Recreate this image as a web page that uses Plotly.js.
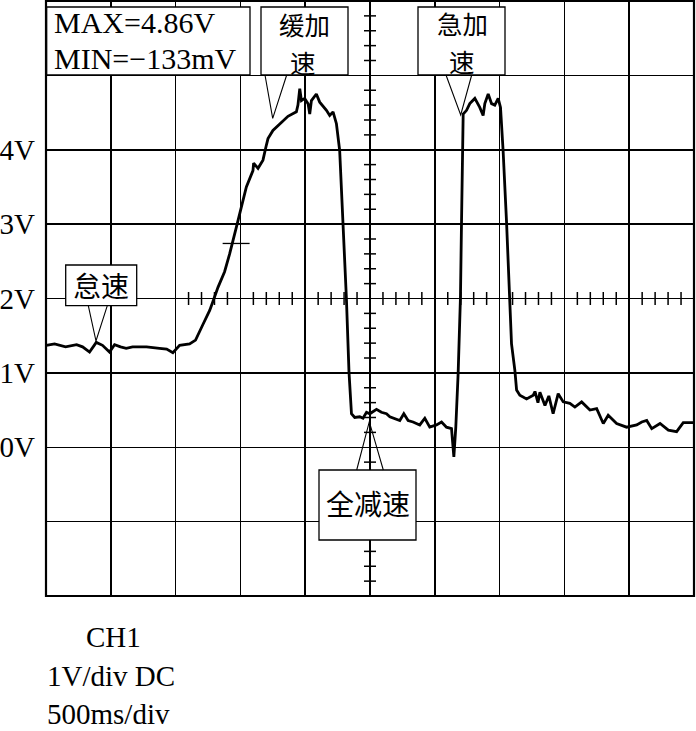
<!DOCTYPE html>
<html><head><meta charset="utf-8">
<script src="https://cdn.plot.ly/plotly-3.0.1.min.js"></script>
<style>html,body{margin:0;padding:0;background:#fff}</style>
</head><body><div id="chart" style="width:696px;height:731px"></div>
<script>
// ---- data (time in s, 500 ms/div; voltage in V, 1 V/div) ----
const timeS = [0.002,0.066,0.151,0.236,0.282,0.336,0.388,0.436,0.490,0.529,0.575,0.619,0.668,0.776,0.876,0.931,0.979,1.031,1.108,1.154,
  1.208,1.263,1.286,1.327,1.378,1.417,1.469,1.507,1.546,1.597,1.602,1.636,1.674,1.700,1.713,1.751,1.803,1.867,1.932,1.944,
  1.958,1.971,1.996,2.022,2.035,2.048,2.086,2.112,2.164,2.189,2.215,2.241,2.266,2.292,2.318,2.338,2.357,2.382,2.421,2.446,
  2.473,2.498,2.550,2.588,2.627,2.653,2.691,2.730,2.761,2.794,2.832,2.884,2.923,2.961,3.013,3.052,3.090,3.129,3.147,3.162,
  3.180,3.198,3.206,3.214,3.219,3.245,3.270,3.309,3.347,3.373,3.386,3.412,3.438,3.463,3.489,3.507,3.515,3.527,3.554,3.579,
  3.592,3.618,3.631,3.656,3.708,3.760,3.773,3.796,3.811,3.850,3.880,3.913,3.952,3.991,4.042,4.081,4.133,4.197,4.249,4.300,
  4.338,4.403,4.480,4.558,4.597,4.635,4.674,4.738,4.802,4.866,4.917,4.995];
const voltV = [1.37,1.39,1.35,1.38,1.35,1.28,1.41,1.37,1.28,1.38,1.35,1.33,1.35,1.35,1.33,1.32,1.27,1.37,1.39,1.44,
  1.64,1.84,1.95,2.15,2.36,2.60,2.96,3.23,3.50,3.72,3.82,3.75,3.86,4.06,4.15,4.26,4.35,4.45,4.51,4.60,
  4.82,4.66,4.69,4.62,4.48,4.66,4.75,4.64,4.53,4.46,4.51,4.35,3.99,3.02,2.00,1.01,0.45,0.40,0.41,0.39,
  0.47,0.45,0.51,0.47,0.45,0.41,0.39,0.36,0.45,0.36,0.34,0.30,0.39,0.27,0.30,0.34,0.27,0.25,-0.13,0.27,
  0.99,2.02,3.01,3.99,4.48,4.53,4.62,4.69,4.57,4.46,4.62,4.75,4.62,4.60,4.69,4.57,4.35,3.99,3.01,2.00,
  1.39,1.03,0.77,0.70,0.65,0.70,0.75,0.60,0.74,0.56,0.69,0.45,0.72,0.61,0.59,0.54,0.61,0.50,0.52,0.32,
  0.43,0.32,0.27,0.30,0.34,0.36,0.25,0.32,0.23,0.21,0.33,0.33];
const yTickVals = [-2,-1,0,1,2,3,4,5,6];
const yTickText = ['','','0V','1V','2V','3V','4V','',''];
const xGridVals = [0,0.5,1,1.5,2,2.5,3,3.5,4,4.5,5];
const infoLines = ['MAX=4.86V','MIN=\u2212133mV'];
const footerLines = ['CH1','1V/div DC','500ms/div'];
const calloutSlow = ['缓加','速'];
const calloutFast = ['急加','速'];
const calloutIdle = '怠速';
const calloutDecel = '全减速';
const cursorT = [1.363,1.571], cursorV = 2.74;

// ---- geometry helpers (pixel -> paper) ----
const W=696,H=731,L=46,R=2,T=1,B=135;
const PW=W-L-R, PH=H-T-B;
const X = px => (px-L)/PW;
const Y = py => (H-B-py)/PH;
const serif = 'Liberation Serif, Times New Roman, serif';
const cjk = 'Noto Sans CJK SC, sans-serif';

const shapes = [];
const line = (x0,y0,x1,y1,w) => ({type:'line',xref:'x',yref:'y',x0,y0,x1,y1,line:{color:'#000',width:w||1.5},layer:'above'});
// center-axis ticks
const dx = 6/(PW/5), dy = 6.5/(PH/8);
for(let k=1;k<40;k++){ if(k%5===0) continue; const v=-2+0.2*k; shapes.push(line(2.5-dx,v,2.5+dx,v,1.5)); }
for(let k=1;k<40;k++){ if(k%5===0) continue; const t=1.0+0.1*k; shapes.push(line(t,2-dy,t,2+dy,1.5)); }
// cursor mark
shapes.push(line(cursorT[0],cursorV,cursorT[1],cursorV,1.3));
// outer frame
shapes.push({type:'rect',xref:'paper',yref:'paper',x0:0,y0:0,x1:1,y1:1,line:{color:'#000',width:2.2},layer:'above'});
// callout boxes
const box = (x0,y0,x1,y1) => ({type:'rect',xref:'paper',yref:'paper',x0:X(x0),y0:Y(y1),x1:X(x1),y1:Y(y0),fillcolor:'#fff',line:{color:'#000',width:1.3},layer:'above'});
const ptr = (a,b,c) => ({type:'path',xref:'paper',yref:'paper',path:`M ${X(a[0])} ${Y(a[1])} L ${X(b[0])} ${Y(b[1])} L ${X(c[0])} ${Y(c[1])}`,line:{color:'#000',width:1.1},layer:'above'});
shapes.push(box(46.7,7,250,75));
shapes.push(box(261,7,348,75));
shapes.push(box(418,7,505,75));
shapes.push(box(65.7,265,136.7,305.7));
shapes.push(box(319,470,416,540));
shapes.push(ptr([265,75],[272.7,118.3],[286.7,75]));
shapes.push(ptr([446,75],[460.7,115],[471.7,75]));
shapes.push(ptr([88.3,305.7],[96,341],[107.3,305.7]));
shapes.push(ptr([356.7,470],[369.3,421.7],[383.3,470]));

const ann = (text,px,py,font,size,xanchor) => ({text,xref:'paper',yref:'paper',x:X(px),y:Y(py),xanchor:xanchor||'center',yanchor:'middle',showarrow:false,font:{family:font,size:size,color:'#000'}});
const annotations = [
  ann(infoLines[0],52,23,serif,30,'left'),
  ann(infoLines[1],52,59,serif,30,'left'),
  ann(calloutSlow[0],304,23.5,cjk,25.5),
  ann(calloutSlow[1],303,61.5,cjk,25.5),
  ann(calloutFast[0],462,23,cjk,25.5),
  ann(calloutFast[1],461.5,61,cjk,25.5),
  ann(calloutIdle,100.5,285,cjk,28),
  ann(calloutDecel,367.5,503,cjk,28),
  ann(footerLines[0],84,637,serif,29,'left'),
  ann(footerLines[1],45,676,serif,29,'left'),
  ann(footerLines[2],45,714,serif,29,'left')
];

Plotly.newPlot('chart',[{
  x: timeS, y: voltV, type:'scatter', mode:'lines',
  line:{color:'#000',width:2.8}, hoverinfo:'skip'
}],{
  width:W,height:H,margin:{l:L,r:R,t:T,b:B},
  paper_bgcolor:'#fff',plot_bgcolor:'#fff',showlegend:false,
  xaxis:{range:[0,5],tickvals:xGridVals,showticklabels:false,ticks:'',showgrid:true,gridcolor:'#000',gridwidth:1.5,zeroline:false,showline:false,fixedrange:true},
  yaxis:{range:[-2,6],tickvals:yTickVals,ticktext:yTickText,ticks:'',ticklabelstandoff:10,showgrid:true,gridcolor:'#000',gridwidth:1.5,zeroline:false,showline:false,fixedrange:true,
    tickfont:{family:serif,size:29,color:'#000'}},
  shapes, annotations
},{staticPlot:true,displayModeBar:false});
</script></body></html>
